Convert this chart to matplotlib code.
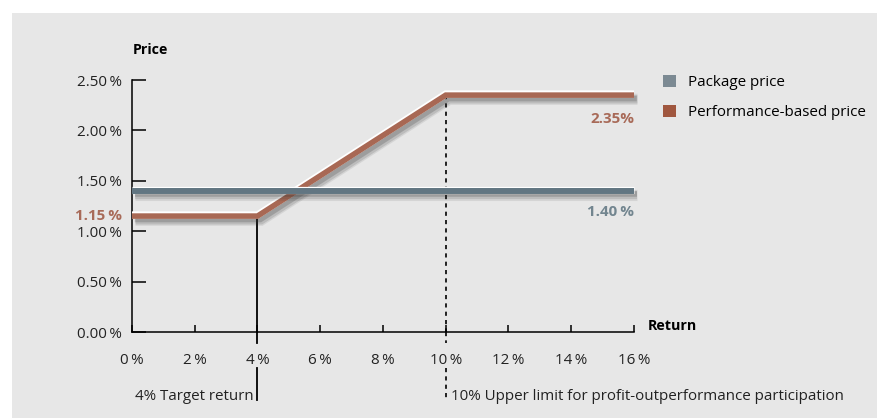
#!/usr/bin/env python3
import matplotlib

matplotlib.use("Agg")
import matplotlib.pyplot as plt
import matplotlib.patheffects as pe
from matplotlib.patches import Patch, Rectangle
from matplotlib.transforms import blended_transform_factory

# data
RETURN_X = [0, 4, 10, 16]
PERF_PRICE = [1.15, 1.15, 2.35, 2.35]
PACKAGE_X = [0, 16]
PACKAGE_PRICE = [1.40, 1.40]
TARGET_RETURN = 4
UPPER_LIMIT = 10
X_TICKS = [0, 2, 4, 6, 8, 10, 12, 14, 16]
Y_TICKS = [0.0, 0.5, 1.0, 1.5, 2.0, 2.5]

PKG_COLOR = "#627682"
PERF_COLOR = "#a86854"
PKG_LABEL = "#72858f"
PERF_LABEL = "#a86a58"
BG = "#e7e7e7"
THIN = "\u2009"

plt.rcParams["font.family"] = ["Open Sans", "DejaVu Sans"]
FS = 10.9

W, H = 878, 418
fig = plt.figure(figsize=(W / 100, H / 100), dpi=100)
fig.patch.set_facecolor("white")
fig.patches.append(
    Rectangle((12 / W, 0), 1 - 12 / W, 1 - 13 / H, transform=fig.transFigure,
              facecolor=BG, edgecolor="none", zorder=-10)
)

ax = fig.add_axes([132 / W, (H - 332) / H, 502 / W, 252 / H])
ax.set_facecolor("none")
ax.set_xlim(0, 16)
ax.set_ylim(0, 2.5)
for side in ("top", "right"):
    ax.spines[side].set_visible(False)
for side in ("left", "bottom"):
    ax.spines[side].set_linewidth(1.1)
    ax.spines[side].set_color("black")

ax.set_xticks(X_TICKS)
ax.set_xticklabels([f"{v}{THIN}%" for v in X_TICKS], fontsize=FS, color="#222222")
ax.set_yticks(Y_TICKS)
ax.set_yticklabels([f"{v:.2f}{THIN}%" for v in Y_TICKS], fontsize=FS, color="#222222")
ax.tick_params(axis="y", direction="in", length=10, width=1.1, pad=7.5)
ax.tick_params(axis="x", direction="in", length=5, width=1.1, pad=15)

# soft drop shadow: a few stacked translucent strokes
shadow = [
    pe.SimpleLineShadow(offset=(2.5, -3), shadow_color="#333333", alpha=0.10, linewidth=8),
    pe.SimpleLineShadow(offset=(2.5, -3), shadow_color="#333333", alpha=0.15, linewidth=6),
    pe.SimpleLineShadow(offset=(2.0, -2.5), shadow_color="#333333", alpha=0.22, linewidth=4),
]
hilite = pe.Stroke(linewidth=5.2, foreground="white", offset=(0, 0.8))

blend = blended_transform_factory(ax.transData, ax.transAxes)

# marker lines for target return and upper limit
ax.plot([TARGET_RETURN, TARGET_RETURN], [PERF_PRICE[1], 0], color="black",
        lw=1.3, clip_on=False, zorder=2)
ax.plot([TARGET_RETURN] * 2, [0, -0.044], color="black", lw=1.3,
        transform=blend, clip_on=False)
ax.plot([TARGET_RETURN] * 2, [-0.143, -0.27], color="black", lw=1.3,
        transform=blend, clip_on=False)
ax.plot([UPPER_LIMIT, UPPER_LIMIT], [PERF_PRICE[2], 0], color="black",
        lw=1.2, ls=(0, (2.5, 2.5)), clip_on=False, zorder=2)
ax.plot([UPPER_LIMIT] * 2, [0, -0.044], color="black", lw=1.2,
        ls=(0, (2.5, 2.5)), transform=blend, clip_on=False)
ax.plot([UPPER_LIMIT] * 2, [-0.143, -0.27], color="black", lw=1.2,
        ls=(0, (2.5, 2.5)), transform=blend, clip_on=False)

ax.plot(RETURN_X, PERF_PRICE, color=PERF_COLOR, lw=4.0, solid_capstyle="butt",
        solid_joinstyle="miter", clip_on=False, zorder=3,
        path_effects=shadow + [hilite, pe.Normal()])
ax.plot(PACKAGE_X, PACKAGE_PRICE, color=PKG_COLOR, lw=4.3, solid_capstyle="butt",
        clip_on=False, zorder=4,
        path_effects=shadow + [hilite, pe.Normal()])

# value labels
ax.annotate(f"{PERF_PRICE[0]:.2f}{THIN}%", xy=(0, PERF_PRICE[0]), xytext=(-7.5, 0),
            textcoords="offset points", ha="right", va="center", fontsize=FS,
            fontweight="bold", color=PERF_LABEL, annotation_clip=False)
ax.annotate(f"{PACKAGE_PRICE[-1]:.2f}{THIN}%", xy=(16, PACKAGE_PRICE[-1]),
            xytext=(0, -15), textcoords="offset points", ha="right", va="center",
            fontsize=FS, fontweight="bold", color=PKG_LABEL, annotation_clip=False)
ax.annotate(f"{PERF_PRICE[-1]:.2f}%", xy=(16, PERF_PRICE[-1]), xytext=(0, -17),
            textcoords="offset points", ha="right", va="center", fontsize=FS,
            fontweight="bold", color=PERF_LABEL, annotation_clip=False)

fig.text(133 / W, 1 - 50 / H, "Price", fontsize=10.3, fontweight="bold",
         ha="left", va="center")
fig.text(648 / W, 1 - 326 / H, "Return", fontsize=10.3, fontweight="bold",
         ha="left", va="center")

ax.annotate("4% Target return", xy=(TARGET_RETURN, -0.255), xycoords=blend,
            xytext=(-3, 0), textcoords="offset points", ha="right", va="center",
            fontsize=FS, color="#222222", annotation_clip=False)
ax.annotate("10% Upper limit for profit-outperformance participation",
            xy=(UPPER_LIMIT, -0.255), xycoords=blend, xytext=(4, 0),
            textcoords="offset points", ha="left", va="center", fontsize=FS,
            color="#222222", annotation_clip=False)

handles = [
    Patch(facecolor="#7c8a93", edgecolor="none", label="Package price"),
    Patch(facecolor="#a0573f", edgecolor="none", label="Performance-based price"),
]
fig.legend(handles=handles, loc="upper left", bbox_to_anchor=(658 / W, 1 - 70 / H),
           frameon=False, fontsize=FS, handlelength=0.92, handleheight=0.92,
           handletextpad=0.75, labelspacing=0.95, borderaxespad=0, borderpad=0.3)

fig.savefig("out.png", dpi=100, facecolor=fig.get_facecolor())
